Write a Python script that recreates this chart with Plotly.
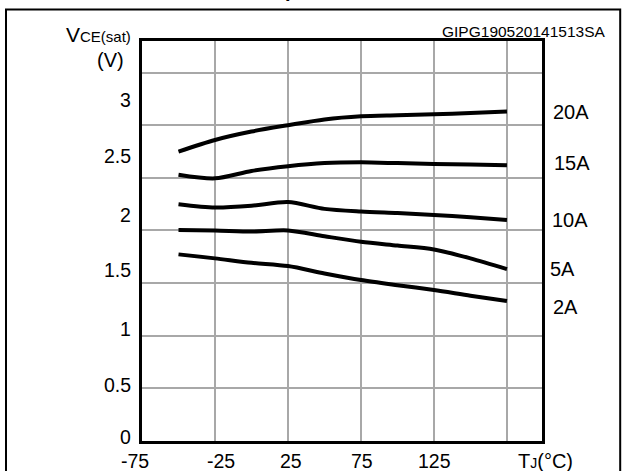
import plotly.graph_objects as go

# ---- data ----
temps = [-50, -25, 0, 25, 50, 75, 100, 125, 150, 175]
v_20A = [2.75, 2.86, 2.94, 3.00, 3.055, 3.085, 3.095, 3.105, 3.115, 3.13]
v_15A = [2.53, 2.495, 2.565, 2.61, 2.64, 2.647, 2.64, 2.632, 2.627, 2.62]
v_10A = [2.25, 2.218, 2.235, 2.27, 2.205, 2.18, 2.165, 2.148, 2.125, 2.10]
v_5A = [2.004, 2.0, 1.99, 2.0, 1.945, 1.893, 1.857, 1.82, 1.735, 1.633]
v_2A = [1.773, 1.735, 1.693, 1.662, 1.592, 1.529, 1.48, 1.434, 1.38, 1.33]
series_names = ["20A", "15A", "10A", "5A", "2A"]
series_values = [v_20A, v_15A, v_10A, v_5A, v_2A]

x_tick_vals = [-75, -25, 25, 75, 125]
x_tick_text = ["-75", "-25", "25", "75", "125"]
y_tick_vals = [0, 0.5, 1, 1.5, 2, 2.5, 3]
y_tick_text = ["0", "0.5", "1", "1.5", "2", "2.5", "3"]

# ---- style ----
FONT = "Liberation Sans, Arial, sans-serif"
y_label_shift = [4, 3, 7, 13, 15, 22, 25]      # px upward offsets of y labels
x_label_shift = [-7, 6, 3, 1, 1]               # px horizontal offsets of x labels
curve_label_xshift = [8.5, 9.5, 7.5, 5.5, 8.5]
curve_label_yshift = [0, 2, 0, 0, -6]

fig = go.Figure()
for name, vals in zip(series_names, series_values):
    fig.add_trace(go.Scatter(
        x=temps, y=vals, mode="lines", name=name,
        line=dict(color="black", width=4, shape="spline", smoothing=0.8),
        showlegend=False, hoverinfo="skip"))

ann = []
for v, t, s in zip(y_tick_vals, y_tick_text, y_label_shift):
    ann.append(dict(x=0, xref="paper", y=v, yref="y", text=t, showarrow=False,
                    xanchor="right", yanchor="middle", xshift=-9.5, yshift=s,
                    font=dict(family=FONT, size=19.5, color="black")))
for v, t, s in zip(x_tick_vals, x_tick_text, x_label_shift):
    ann.append(dict(x=v, xref="x", y=0, yref="paper", text=t, showarrow=False,
                    xanchor="center", yanchor="middle", xshift=s, yshift=-20,
                    font=dict(family=FONT, size=19.5, color="black")))
for name, vals, xs, ys in zip(series_names, series_values, curve_label_xshift, curve_label_yshift):
    ann.append(dict(x=1, xref="paper", y=vals[-1], yref="y", text=name, showarrow=False,
                    xanchor="left", yanchor="middle", xshift=xs, yshift=ys,
                    font=dict(family=FONT, size=20, color="black")))

ann += [
    dict(x=0, xref="paper", y=1.0167, yref="paper",
         text="V<span style='font-size:15px'>CE(sat)</span>", showarrow=False,
         xanchor="right", yanchor="middle", xshift=-9,
         font=dict(family=FONT, size=21, color="black")),
    dict(x=0, xref="paper", y=0.952, yref="paper", text="(V)", showarrow=False,
         xanchor="right", yanchor="middle", xshift=-16,
         font=dict(family=FONT, size=20, color="black")),
    dict(x=1, xref="paper", y=1.0242, yref="paper", text="GIPG190520141513SA",
         showarrow=False, xanchor="right", yanchor="middle", xshift=66,
         font=dict(family=FONT, size=15.5, color="black")),
    dict(x=1, xref="paper", y=0, yref="paper",
         text="T<span style='font-size:14px'>J</span>(°C)", showarrow=False,
         xanchor="center", yanchor="middle", xshift=3.5, yshift=-20,
         font=dict(family=FONT, size=20, color="black")),
    dict(x=0.3715, xref="paper", y=1.127, yref="paper", text="<b>p</b>",
         showarrow=False, xanchor="center", yanchor="middle",
         font=dict(family=FONT, size=20, color="black")),
]

fig.update_layout(
    width=622, height=471, autosize=False,
    margin=dict(l=142, r=80, t=41, b=30, pad=0),
    paper_bgcolor="white", plot_bgcolor="white",
    annotations=ann,
    shapes=[dict(type="rect", xref="paper", yref="paper",
                 x0=-0.340, x1=1.1955, y0=-0.1, y1=1.0785,
                 line=dict(color="black", width=2), layer="above")],
    xaxis=dict(range=[-75, 199], tick0=-75, dtick=50, showticklabels=False,
               showgrid=True, gridcolor="#a8a8a8", gridwidth=1.5, zeroline=False,
               showline=True, linecolor="black", linewidth=3, mirror=True, ticks=""),
    yaxis=dict(range=[0, 3.8], tick0=0, dtick=0.5, showticklabels=False,
               showgrid=True, gridcolor="#a8a8a8", gridwidth=1.5, zeroline=False,
               showline=True, linecolor="black", linewidth=3, mirror=True, ticks=""),
)

fig.write_html(
    "out.html",
    config={"displayModeBar": False},
    post_script="document.body.style.margin='0';document.body.style.overflow='hidden';",
)
